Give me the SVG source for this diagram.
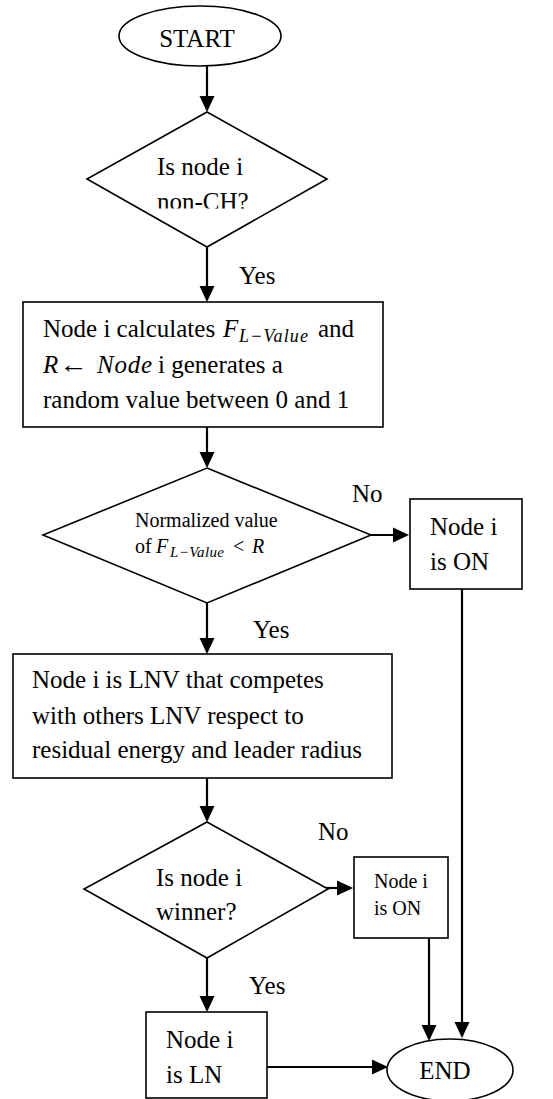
<svg xmlns="http://www.w3.org/2000/svg" width="553" height="1099" viewBox="0 0 553 1099">
<style>
.s{fill:#fff;stroke:#000;stroke-width:1.6}
.c{fill:none;stroke:#000;stroke-width:2.2}
.t{font-family:"Liberation Serif","Times New Roman",serif;font-size:25px;fill:#000}
.sm{font-size:20px}
.m{font-family:"Liberation Serif","Cambria Math",serif;font-style:italic}
.sub{font-size:18px}
.subs{font-size:15px}
</style>
<defs>
<marker id="ah" markerUnits="userSpaceOnUse" markerWidth="16" markerHeight="16" viewBox="0 0 16 16" refX="14" refY="8" orient="auto">
<path d="M0,0.5 L16,8 L0,15.5 z" fill="#000"/>
</marker>
<clipPath id="clipD1"><rect x="80" y="100" width="260" height="108.5"/></clipPath>
</defs>

<g id="connectors">
<line class="c" x1="207" y1="66" x2="207" y2="110" marker-end="url(#ah)"/>
<line class="c" x1="207" y1="247" x2="207" y2="300" marker-end="url(#ah)"/>
<line class="c" x1="207" y1="427" x2="207" y2="466" marker-end="url(#ah)"/>
<line class="c" x1="371" y1="535" x2="407" y2="535" marker-end="url(#ah)"/>
<line class="c" x1="207" y1="603" x2="207" y2="652" marker-end="url(#ah)"/>
<line class="c" x1="462" y1="589" x2="462" y2="1036" marker-end="url(#ah)"/>
<line class="c" x1="207" y1="778" x2="207" y2="820" marker-end="url(#ah)"/>
<line class="c" x1="320" y1="888" x2="351" y2="888" marker-end="url(#ah)"/>
<line class="c" x1="429" y1="938" x2="429" y2="1039" marker-end="url(#ah)"/>
<line class="c" x1="207" y1="958" x2="207" y2="1010" marker-end="url(#ah)"/>
<line class="c" x1="267" y1="1067" x2="386" y2="1067" marker-end="url(#ah)"/>
<text class="t" x="239" y="284">Yes</text>
<text class="t" x="352" y="502">No</text>
<text class="t" x="253" y="638">Yes</text>
<text class="t" x="318" y="840">No</text>
<text class="t" x="249" y="994">Yes</text>
</g>

<g id="start">
<ellipse class="s" cx="200" cy="36" rx="81" ry="30"/>
<text class="t" x="197" y="47" text-anchor="middle">START</text>
</g>

<g id="d1">
<polygon class="s" points="207,112 327,179 207,247 87,179"/>
<g clip-path="url(#clipD1)">
<text class="t" x="157" y="175">Is node i</text>
<text class="t" x="157" y="210">non-CH?</text>
</g>
</g>

<g id="box1">
<rect class="s" x="23" y="302" width="360" height="125"/>
<text class="t" x="43" y="337">Node i calculates</text>
<text class="t m" x="223" y="337">F</text>
<text class="t m sub" x="239" y="342" textLength="69" lengthAdjust="spacing">L−Value</text>
<text class="t" x="318" y="337">and</text>
<text class="t m" x="43" y="373">R</text>
<text class="t" x="59" y="373" textLength="29" lengthAdjust="spacingAndGlyphs">←</text>
<text class="t m" x="97" y="373" textLength="55" lengthAdjust="spacing">Node</text>
<text class="t" x="158" y="373">i generates a</text>
<text class="t" x="43" y="408">random value between 0 and 1</text>
</g>

<g id="d2">
<polygon class="s" points="207,468 371,535 207,603 43,535"/>
<text class="t sm" x="135" y="527">Normalized value</text>
<text class="t sm" x="135" y="553">of</text>
<text class="t sm m" x="156" y="553">F</text>
<text class="t m subs" x="170" y="557" textLength="54" lengthAdjust="spacing">L−Value</text>
<text class="t sm" x="233" y="553">&lt;</text>
<text class="t sm m" x="252" y="553">R</text>
</g>

<g id="on1">
<rect class="s" x="410" y="499" width="112" height="90"/>
<text class="t" x="430" y="535">Node i</text>
<text class="t" x="430" y="570">is ON</text>
</g>

<g id="box2">
<rect class="s" x="13" y="654" width="379" height="124"/>
<text class="t" x="32" y="688">Node i is LNV that competes</text>
<text class="t" x="32" y="724">with others LNV respect to</text>
<text class="t" x="32" y="758">residual energy and leader radius</text>
</g>

<g id="d3">
<polygon class="s" points="207,822 328,889 207,958 84,889"/>
<text class="t" x="156" y="886">Is node i</text>
<text class="t" x="156" y="920">winner?</text>
</g>

<g id="on2">
<rect class="s" x="354" y="857" width="94" height="81"/>
<text class="t sm" x="374" y="888">Node i</text>
<text class="t sm" x="374" y="915">is ON</text>
</g>

<g id="ln">
<rect class="s" x="146" y="1012" width="121" height="86"/>
<text class="t" x="166" y="1048">Node i</text>
<text class="t" x="166" y="1083">is LN</text>
</g>

<g id="end">
<ellipse class="s" cx="450" cy="1070" rx="63" ry="31"/>
<text class="t" x="445" y="1079" text-anchor="middle">END</text>
</g>
</svg>
